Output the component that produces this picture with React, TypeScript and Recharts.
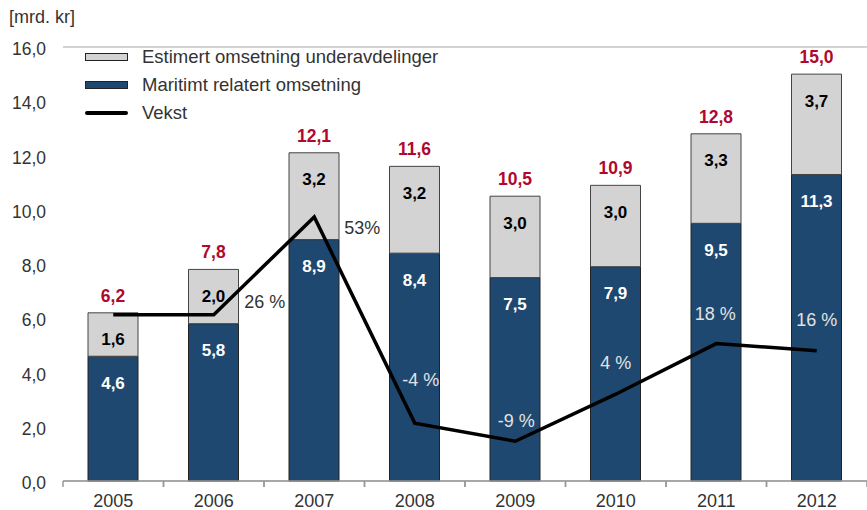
import {
  ComposedChart,
  Bar,
  Line,
  XAxis,
  YAxis,
  CartesianGrid,
  LabelList,
  Legend,
} from "recharts";

const years = ["2005", "2006", "2007", "2008", "2009", "2010", "2011", "2012"];
const maritime = [4.6, 5.8, 8.9, 8.4, 7.5, 7.9, 9.5, 11.3];
const estimated = [1.6, 2.0, 3.2, 3.2, 3.0, 3.0, 3.3, 3.7];
const totals = [6.2, 7.8, 12.1, 11.6, 10.5, 10.9, 12.8, 15.0];
const growth = [26, 26, 53, -4, -9, 4, 18, 16];
const growthLabels = ["", "26 %", "53%", "-4 %", "-9 %", "4 %", "18 %", "16 %"];
const yTicks = [0, 2, 4, 6, 8, 10, 12, 14, 16];

const BLUE = "#1f4870";
const GRAY = "#d3d3d3";
const RED = "#b0082f";
const TEXT = "#333333";
const FONT = "'Liberation Sans', Arial, sans-serif";

const W = 867;
const H = 510;
const Y_W = 63;
const HALF_BAND = (W - Y_W) / years.length / 2;

// where each growth label sits relative to its point (the original places them by hand)
const growthNudge: [number, number][] = [
  [0, 0],
  [51, -13],
  [48, 11],
  [6, -43],
  [1, -20],
  [0, -31],
  [-1, -30],
  [0, -31],
];
const growthOnBar = [false, false, false, true, true, true, true, true];

const data = years.map((year, i) => ({
  year,
  maritime: maritime[i],
  estimated: estimated[i],
  total: totals[i],
  growth: growth[i],
}));

const fmt = (v: number) => v.toFixed(1).replace(".", ",");

const legendItems = [
  { name: "Estimert omsetning underavdelinger", kind: "box", color: GRAY },
  { name: "Maritimt relatert omsetning", kind: "box", color: BLUE },
  { name: "Vekst", kind: "line", color: "#000" },
];

function ChartLegend() {
  return (
    <div>
      {legendItems.map((it) => (
        <div key={it.name} style={{ display: "flex", alignItems: "center", height: 28 }}>
          {it.kind === "box" ? (
            <span
              style={{
                width: 41,
                height: 6,
                background: it.color,
                border: "1px solid #222",
                display: "inline-block",
              }}
            />
          ) : (
            <span
              style={{
                width: 43,
                height: 4,
                background: it.color,
                borderRadius: 2,
                display: "inline-block",
              }}
            />
          )}
          <span style={{ marginLeft: 14, fontSize: 18.5, color: TEXT, fontFamily: FONT }}>
            {it.name}
          </span>
        </div>
      ))}
    </div>
  );
}

function SegmentLabel(color: string) {
  return (props: any) => {
    const { x, y, width, value } = props;
    return (
      <text
        x={x + width / 2}
        y={y + 27}
        textAnchor="middle"
        dominantBaseline="central"
        fill={color}
        fontSize={17}
        fontWeight="bold"
        fontFamily={FONT}
      >
        {fmt(value)}
      </text>
    );
  };
}

function TotalLabel(props: any) {
  const { x, y, width, value } = props;
  return (
    <text
      x={x + width / 2}
      y={y - 17}
      textAnchor="middle"
      dominantBaseline="central"
      fill={RED}
      fontSize={17.5}
      fontWeight="bold"
      fontFamily={FONT}
    >
      {fmt(value)}
    </text>
  );
}

function GrowthLabel(props: any) {
  const { x, y, index } = props;
  const text = growthLabels[index];
  if (!text) return null;
  const [dx, dy] = growthNudge[index];
  return (
    <text
      x={x + dx}
      y={y + dy}
      textAnchor="middle"
      dominantBaseline="central"
      fill={growthOnBar[index] ? "#e2e2e2" : TEXT}
      fontSize={18}
      fontFamily={FONT}
    >
      {text}
    </text>
  );
}

function YearTick(props: any) {
  const { x, y, payload } = props;
  return (
    <g>
      <line x1={x - HALF_BAND} x2={x - HALF_BAND} y1={y} y2={y + 6} stroke="#999" strokeWidth={1.5} />
      <line x1={x + HALF_BAND} x2={x + HALF_BAND} y1={y} y2={y + 6} stroke="#999" strokeWidth={1.5} />
      <text
        x={x}
        y={y + 20}
        textAnchor="middle"
        dominantBaseline="central"
        fill={TEXT}
        fontSize={18}
        fontFamily={FONT}
      >
        {payload.value}
      </text>
    </g>
  );
}

function ValueTick(props: any) {
  const { x, y, payload } = props;
  return (
    <text
      x={x}
      y={y + 2}
      textAnchor="end"
      dominantBaseline="central"
      fill={TEXT}
      fontSize={17.5}
      fontFamily={FONT}
    >
      {fmt(payload.value)}
    </text>
  );
}

export default function App() {
  return (
    <div style={{ position: "absolute", left: 0, top: 0, width: W, height: H, background: "#fff" }}>
      <ComposedChart
        width={W}
        height={H}
        data={data}
        margin={{ top: 47, right: 0, bottom: 0, left: 0 }}
        barSize={50}
      >
        <CartesianGrid vertical={false} stroke="#c4c4c4" strokeWidth={1.5} />
        <XAxis
          dataKey="year"
          height={29}
          axisLine={{ stroke: "#999", strokeWidth: 1.5 }}
          tickLine={false}
          tickSize={0}
          tickMargin={0}
          tick={<YearTick />}
          interval={0}
        />
        <YAxis
          yAxisId="left"
          width={Y_W}
          domain={[0, 16]}
          ticks={yTicks}
          axisLine={false}
          tickLine={false}
          tickSize={0}
          tickMargin={17}
          tick={<ValueTick />}
          label={{
            content: () => (
              <text x={9} y={17} dominantBaseline="central" fill={TEXT} fontSize={18} fontFamily={FONT}>
                [mrd. kr]
              </text>
            ),
          }}
        />
        <YAxis yAxisId="right" orientation="right" hide domain={[-20, 100]} />
        <Legend
          layout="vertical"
          align="center"
          verticalAlign="middle"
          wrapperStyle={{ top: 43, left: 85, width: "auto" }}
          content={() => <ChartLegend />}
        />
        <Bar
          yAxisId="left"
          dataKey="maritime"
          stackId="a"
          fill={BLUE}
          stroke="#222"
          strokeWidth={1}
          isAnimationActive={false}
        >
          <LabelList dataKey="maritime" content={SegmentLabel("#ffffff")} />
        </Bar>
        <Bar
          yAxisId="left"
          dataKey="estimated"
          stackId="a"
          fill={GRAY}
          stroke="#444"
          strokeWidth={1}
          isAnimationActive={false}
        >
          <LabelList dataKey="estimated" content={SegmentLabel("#000000")} />
          <LabelList dataKey="total" content={TotalLabel} />
        </Bar>
        <Line
          yAxisId="right"
          dataKey="growth"
          type="linear"
          stroke="#000"
          strokeWidth={3.5}
          dot={false}
          activeDot={false}
          isAnimationActive={false}
        >
          <LabelList dataKey="growth" content={GrowthLabel} />
        </Line>
      </ComposedChart>
    </div>
  );
}
